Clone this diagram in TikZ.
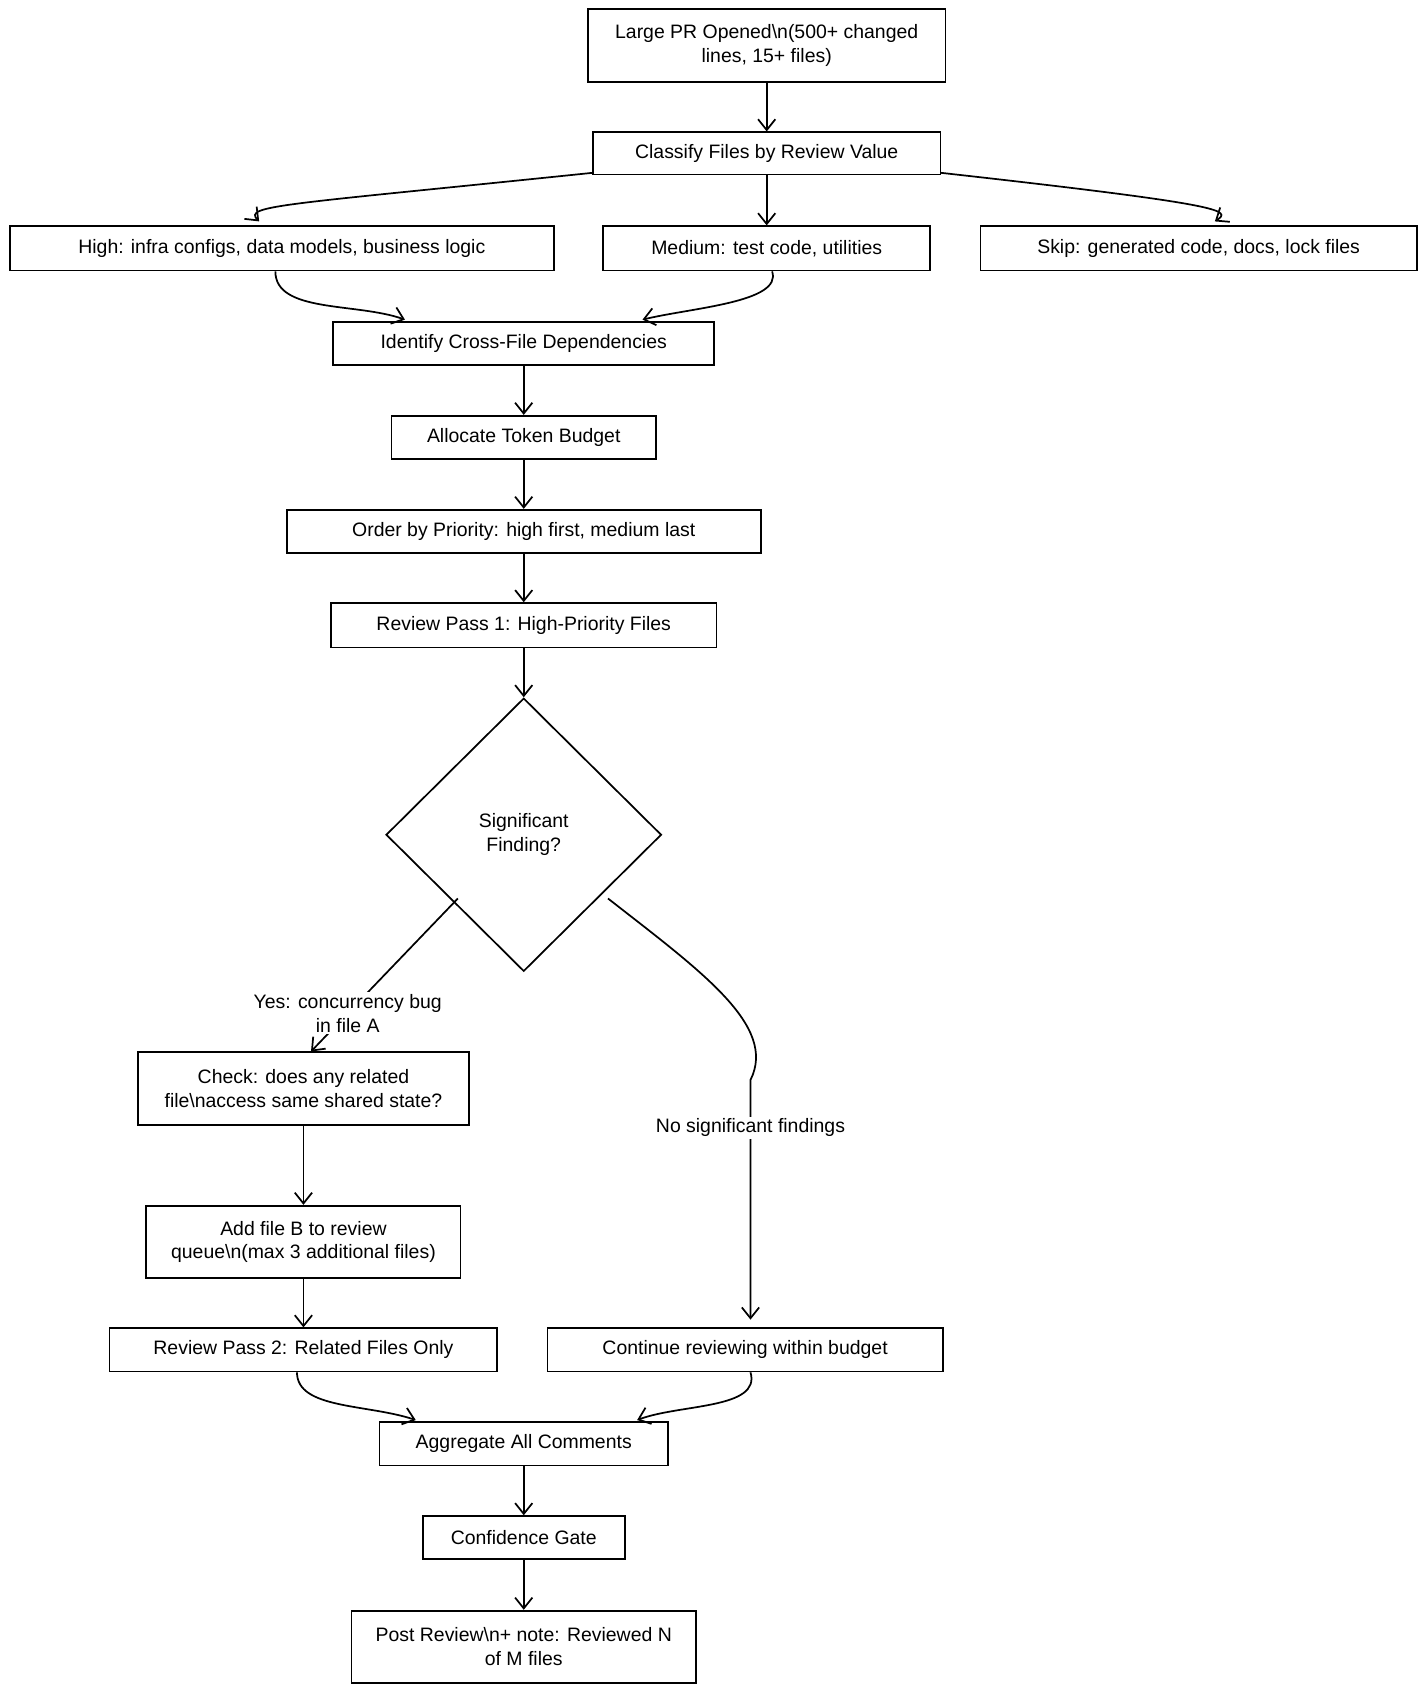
\documentclass[tikz,border=0pt]{standalone}
\usepackage{fontspec}
\setmainfont{Liberation Sans}
\usetikzlibrary{shapes.geometric,arrows.meta}
\newcommand{\bs}{\textbackslash}
\begin{document}
\begin{tikzpicture}[x=0.5pt,y=-0.5pt,
  box/.style={draw,line width=0.8pt,align=center,font=\fontsize{9}{11}\selectfont,inner sep=0pt},
  arr/.style={draw,line width=0.8pt,-{Straight Barb[length=5pt,width=8pt]}},
  lbl/.style={align=center,font=\fontsize{9}{11}\selectfont,fill=white,inner sep=1pt}]
\useasboundingbox (0,0) rectangle (1320,1565);
\node[box,minimum width=165.5pt,minimum height=34pt] (pr) at (710,42) {Large PR Opened\bs n(500+ changed\\lines, 15+ files)};
\node[box,minimum width=161pt,minimum height=19.5pt] (cl) at (710,142) {Classify Files by Review Value};
\node[box,minimum width=252pt,minimum height=20.5pt] (hi) at (261,230) {High: infra configs, data models, business logic};
\node[box,minimum width=151.5pt,minimum height=20.5pt] (me) at (710,230) {Medium: test code, utilities};
\node[box,minimum width=202pt,minimum height=20.5pt] (sk) at (1110,230) {Skip: generated code, docs, lock files};
\node[box,minimum width=176.5pt,minimum height=20pt] (id) at (485,318) {Identify Cross-File Dependencies};
\node[box,minimum width=122.5pt,minimum height=20pt] (al) at (485,405) {Allocate Token Budget};
\node[box,minimum width=219.5pt,minimum height=20pt] (or) at (485,492) {Order by Priority: high first, medium last};
\node[box,minimum width=178.5pt,minimum height=20.5pt] (r1) at (485,579) {Review Pass 1: High-Priority Files};
\node[box,diamond,minimum width=127.5pt,minimum height=126.5pt] (dm) at (485,773) {Significant\\Finding?};
\node[box,minimum width=153.5pt,minimum height=33.5pt] (ck) at (281,1008) {Check: does any related\\file\bs naccess same shared state?};
\node[box,minimum width=145.5pt,minimum height=33.5pt] (ad) at (281,1150) {Add file B to review\\queue\bs n(max 3 additional files)};
\node[box,minimum width=179.5pt,minimum height=20pt] (r2) at (281,1250) {Review Pass 2: Related Files Only};
\node[box,minimum width=183pt,minimum height=20pt] (co) at (690,1250) {Continue reviewing within budget};
\node[box,minimum width=133.5pt,minimum height=20pt] (ag) at (485,1337) {Aggregate All Comments};
\node[box,minimum width=93.5pt,minimum height=20pt] (cg) at (485,1424) {Confidence Gate};
\node[box,minimum width=159.5pt,minimum height=33.5pt] (po) at (485,1525) {Post Review\bs n+ note: Reviewed N\\of M files};
\coordinate (c1) at (549,160);
\coordinate (c2) at (871,160);
\draw[arr] (pr) -- (cl);
\draw[arr] (c1) .. controls (260,190) and (225,190) .. (240,205);
\draw[arr] (cl) -- (me);
\draw[arr] (c2) .. controls (1140,190) and (1140,195) .. (1125,205);
\draw[arr] (hi.south -| 255,0) .. controls (255,290) and (330,280) .. (375,296);
\draw[arr] (me.south -| 715,0) .. controls (725,280) and (640,285) .. (595,296);
\draw[arr] (id) -- (al);
\draw[arr] (al) -- (or);
\draw[arr] (or) -- (r1);
\draw[arr] (r1) -- (dm);
\coordinate (d1) at (424,832);
\coordinate (d2) at (563,832);
\coordinate (e2) at (695,1222);
\draw[arr] (d1) -- (ck.north -| 288,0) node[lbl,pos=0.75] {Yes: concurrency bug\\in file A};
\draw[arr] (d2) .. controls (650,900) and (720,950) .. (695,1000) -- (e2) node[lbl,pos=0.2] {No significant findings};
\draw[arr] (ck) -- (ad);
\draw[arr] (ad) -- (r2);
\draw[arr] (r2.south -| 275,0) .. controls (275,1305) and (340,1300) .. (385,1315);
\draw[arr] (co.south -| 695,0) .. controls (705,1305) and (630,1300) .. (590,1315);
\draw[arr] (ag) -- (cg);
\draw[arr] (cg) -- (po);
\end{tikzpicture}
\end{document}
